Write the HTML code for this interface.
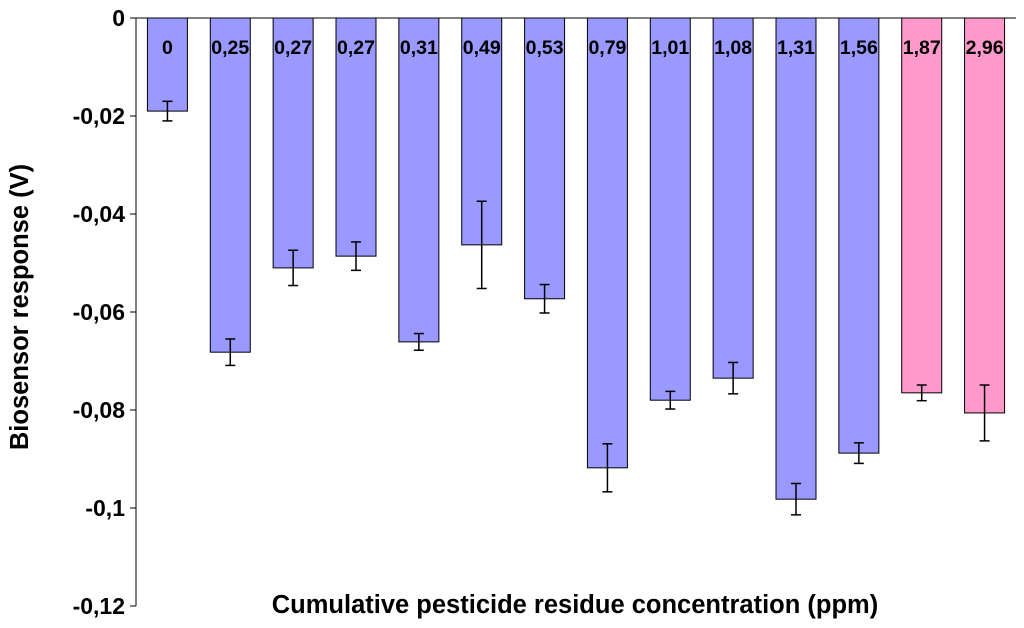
<!DOCTYPE html>
<html><head><meta charset="utf-8"><style>
body{margin:0;background:#fff;}
svg{display:block;font-family:"Liberation Sans",Arial,sans-serif;font-weight:bold;}
</style></head><body>
<svg id="chart" width="1024" height="628" viewBox="0 0 1024 628">
<g id="axes"></g><g id="bars"></g>
<text x="575" y="613" text-anchor="middle" font-size="25.5">Cumulative pesticide residue concentration (ppm)</text>
<text transform="translate(28,307) rotate(-90)" text-anchor="middle" font-size="25.5">Biosensor response (V)</text>
</svg>
<script>
const categories=["0","0,25","0,27","0,27","0,31","0,49","0,53","0,79","1,01","1,08","1,31","1,56","1,87","2,96"];
const values=[-0.019,-0.0682,-0.051,-0.0486,-0.0661,-0.0463,-0.0573,-0.0918,-0.078,-0.0735,-0.0982,-0.0888,-0.0765,-0.0806];
const errors=[0.002,0.0027,0.0036,0.0029,0.0017,0.0089,0.0029,0.0049,0.0018,0.0032,0.0032,0.0021,0.0016,0.0057];
const highlighted=[false,false,false,false,false,false,false,false,false,false,false,false,true,true];
const yTicks=[0,-0.02,-0.04,-0.06,-0.08,-0.1,-0.12];
const yTickLabels=["0","-0,02","-0,04","-0,06","-0,08","-0,1","-0,12"];
const NS="http://www.w3.org/2000/svg";
const x0=136,x1=1016,y0=18,y1=606;
const yScale=v=>y0+(0-v)/0.12*(y1-y0);
const band=(x1-x0)/categories.length;
const xCenter=i=>x0+band*(i+0.5);
function mk(tag,attrs,parent){const e=document.createElementNS(NS,tag);for(const k in attrs)e.setAttribute(k,attrs[k]);parent.appendChild(e);return e;}
const axes=document.getElementById('axes'),bars=document.getElementById('bars');
yTicks.forEach((t,i)=>{
  const y=yScale(t);
  const tk=mk('line',{x1:x0-6,x2:x0,y1:y,y2:y,stroke:'#000','stroke-width':1},axes);
  
  
  const lb=mk('text',{x:x0-11,y:y+8,'text-anchor':'end','font-size':23},axes);
  lb.textContent=yTickLabels[i];
  
  
});
const ya=mk('line',{x1:x0,x2:x0,y1:y0,y2:y1,stroke:'#000','stroke-width':1},axes);


const xa=mk('line',{x1:x0,x2:x1,y1:y0,y2:y0,stroke:'#000','stroke-width':1},axes);


const bw=40;
categories.forEach((c,i)=>{
  const cx=xCenter(i),yb=yScale(values[i]);
  const r=mk('rect',{x:cx-bw/2,y:y0,width:bw,height:yb-y0,fill:highlighted[i]?'#ff99cc':'#9999ff',stroke:'#000','stroke-width':1},bars);
  
  
  const ea=yScale(values[i]+errors[i]),eb=yScale(values[i]-errors[i]);
  const g=mk('g',{stroke:'#000','stroke-width':1.5},bars);
  
  
  mk('line',{x1:cx,x2:cx,y1:ea,y2:eb},g);
  mk('line',{x1:cx-5,x2:cx+5,y1:ea,y2:ea},g);
  mk('line',{x1:cx-5,x2:cx+5,y1:eb,y2:eb},g);
  const t=mk('text',{x:cx,y:54,'text-anchor':'middle','font-size':19.5},bars);
  t.textContent=c;
  
  
});
</script>
</body></html>
